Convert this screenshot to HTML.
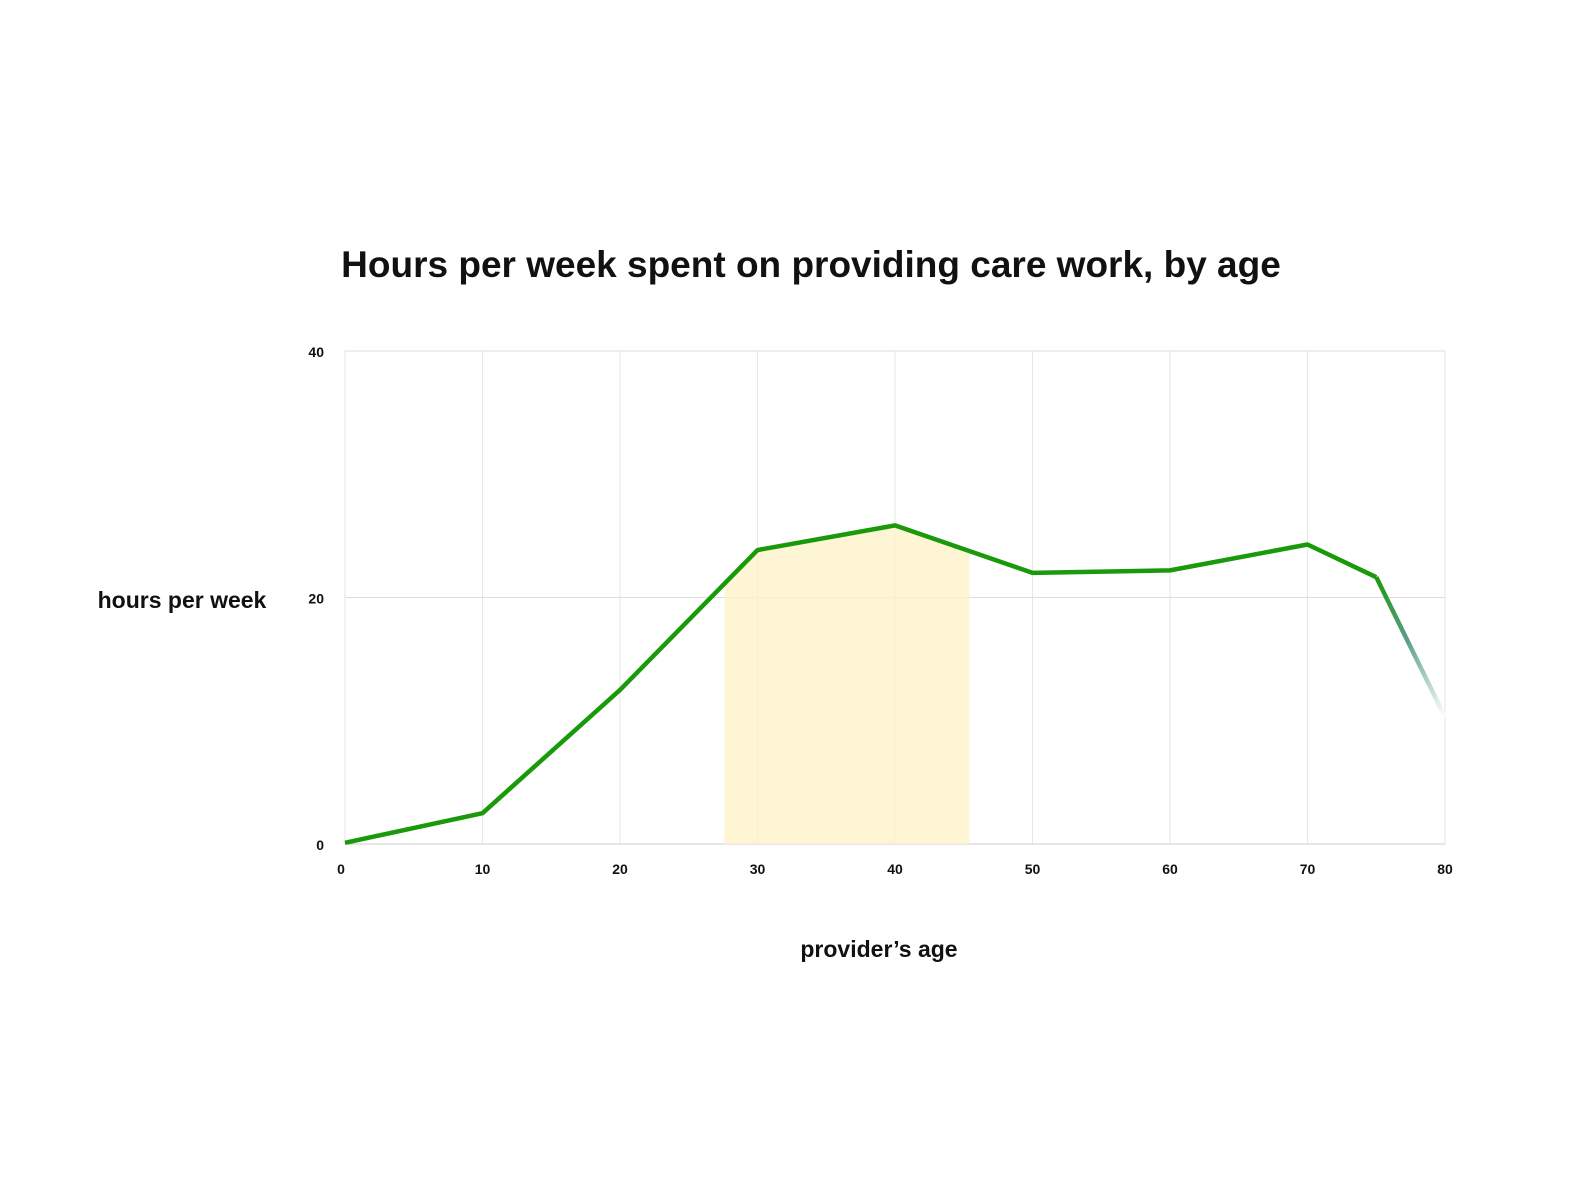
<!DOCTYPE html>
<html><head><meta charset="utf-8"><style>
body{margin:0;background:#fff;font-family:"Liberation Sans",sans-serif}
svg text{font-family:"Liberation Sans",sans-serif}
</style></head><body>
<svg width="1577" height="1182" viewBox="0 0 1577 1182">
<text x="811" y="277" text-anchor="middle" font-size="37" font-weight="bold" fill="#111">Hours per week spent on providing care work, by age</text>
<text x="182" y="608" text-anchor="middle" font-size="23" font-weight="bold" fill="#111">hours per week</text>
<text x="879" y="957" text-anchor="middle" font-size="23" font-weight="bold" fill="#111">provider’s age</text>
<defs>
<linearGradient id="fade" gradientUnits="userSpaceOnUse" x1="1376" y1="577" x2="1445" y2="717">
<stop offset="0" stop-color="#1a9a0a"/><stop offset="0.45" stop-color="#5a9e8a"/><stop offset="1" stop-color="#ffffff"/>
</linearGradient>
</defs>
<g id="grid"></g>
<g id="band"></g>
<g id="lines"></g>
<g id="ticks"></g>
</svg>
<script>
const ages=[0,10,20,30,40,50,60,70,75,80];
const hours=[0.1,2.5,12.5,23.85,25.85,22.0,22.2,24.3,21.65,10.3];
const xTicks=[0,10,20,30,40,50,60,70,80];
const yTicks=[0,20,40];
const highlight=[27.6,45.4];
const NS='http://www.w3.org/2000/svg';
const X=v=>345+v*13.75, Y=v=>844-v*12.325;
function mk(t,a,p){const e=document.createElementNS(NS,t);for(const k in a)e.setAttribute(k,a[k]);document.getElementById(p).appendChild(e);return e;}
xTicks.forEach(t=>{
 const l=mk('line',{x1:X(t),x2:X(t),y1:Y(40),y2:Y(0),stroke:'#e6e6e6','stroke-width':1},'grid');
 
 
 const s=mk('text',{x:X(t)-(t==0?4:0),y:874,'text-anchor':'middle','font-size':14,'font-weight':'bold',fill:'#111'},'ticks');
 s.textContent=t;
 
 
});
yTicks.forEach(t=>{
 const l=mk('line',{x1:345,x2:1445,y1:Y(t),y2:Y(t),stroke:t==0?'#cccccc':'#dddddd','stroke-width':1},'grid');
 
 
 const s=mk('text',{x:324,y:Y(t)+6,'text-anchor':'end','font-size':14,'font-weight':'bold',fill:'#111'},'ticks');
 s.textContent=t;
 
 
});
function interp(a){for(let i=0;i<ages.length-1;i++){if(a>=ages[i]&&a<=ages[i+1]){const f=(a-ages[i])/(ages[i+1]-ages[i]);return hours[i]+f*(hours[i+1]-hours[i]);}}return 0;}
let pts=[[highlight[0],interp(highlight[0])]];
ages.forEach((a,i)=>{if(a>highlight[0]&&a<highlight[1])pts.push([a,hours[i]]);});
pts.push([highlight[1],interp(highlight[1])]);
let d='M'+X(highlight[0])+','+Y(0)+pts.map(p=>' L'+X(p[0])+','+Y(p[1])).join('')+' L'+X(highlight[1])+','+Y(0)+'Z';
const band=mk('path',{d:d,fill:'#fdf3c8','fill-opacity':0.8},'band');


const n=ages.length;
let d1=ages.slice(0,n-1).map((a,i)=>(i?'L':'M')+X(a)+','+Y(hours[i])).join(' ');
const main=mk('path',{d:d1,fill:'none',stroke:'#1a9a0a','stroke-width':4.5,'stroke-linejoin':'round'},'lines');


const tail=mk('path',{d:'M'+X(ages[n-2])+','+Y(hours[n-2])+' L'+X(ages[n-1])+','+Y(hours[n-1]),fill:'none',stroke:'url(#fade)','stroke-width':4.5},'lines');


</script>
</body></html>
